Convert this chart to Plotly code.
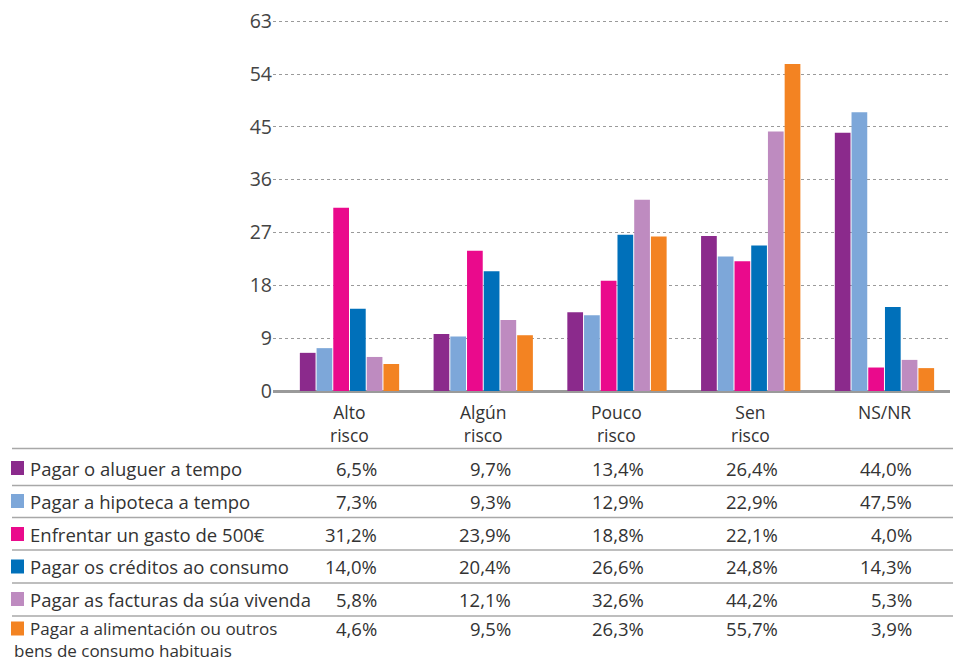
import plotly.graph_objects as go

categories = ["Alto<br>risco", "Algún<br>risco", "Pouco<br>risco", "Sen<br>risco", "NS/NR"]
series_names = [
    "Pagar o aluguer a tempo",
    "Pagar a hipoteca a tempo",
    "Enfrentar un gasto de 500€",
    "Pagar os créditos ao consumo",
    "Pagar as facturas da súa vivenda",
    "Pagar a alimentación ou outros\nbens de consumo habituais",
]
aluguer = [6.5, 9.7, 13.4, 26.4, 44.0]
hipoteca = [7.3, 9.3, 12.9, 22.9, 47.5]
gasto500 = [31.2, 23.9, 18.8, 22.1, 4.0]
creditos = [14.0, 20.4, 26.6, 24.8, 14.3]
facturas = [5.8, 12.1, 32.6, 44.2, 5.3]
alimentacion = [4.6, 9.5, 26.3, 55.7, 3.9]
series_values = [aluguer, hipoteca, gasto500, creditos, facturas, alimentacion]
colors = ["#8B2A8C", "#7DA7D9", "#EA0A8C", "#0070BA", "#BE8BC0", "#F38322"]
y_ticks = [0, 9, 18, 27, 36, 45, 54, 63]

FONT = "Open Sans"
TXT = "#333333"

W, H = 953, 662
L, R, T, B = 273, 3, 20, 271
PW, PH = W - L - R, H - T - B


def xp(px):
    return (px - L) / PW


def yp(py):
    return (H - B - py) / PH


fig = go.Figure()
for name, vals, col in zip(series_names, series_values, colors):
    fig.add_trace(go.Bar(
        x=list(range(len(categories))), y=vals, name=name.replace("\n", " "),
        marker=dict(color=col, line=dict(width=0)), showlegend=False,
    ))

annotations = []
shapes = []

# category labels
for j, cat in enumerate(categories):
    annotations.append(dict(text=cat, xref="x", yref="paper", x=j, y=yp(398),
                            xanchor="center", yanchor="top", showarrow=False,
                            font=dict(family=FONT, size=17.5, color=TXT)))

# table horizontal rules
rule_y = [448.5, 485.5, 517.5, 550, 583, 616]
for ry in rule_y:
    shapes.append(dict(type="line", xref="paper", yref="paper",
                       x0=xp(12), x1=xp(953), y0=yp(ry), y1=yp(ry),
                       line=dict(color="#A8A8A8", width=1.5)))

row_y = [468, 501, 534, 566.5, 599, 628.5]
col_right = [378, 512, 645, 779, 913]
for i, (name, vals, col) in enumerate(zip(series_names, series_values, colors)):
    cy = row_y[i]
    parts = name.split("\n")
    fs = 18.5 if len(parts) == 1 else 17
    shapes.append(dict(type="rect", xref="paper", yref="paper",
                       x0=xp(11), x1=xp(24), y0=yp(cy + 7), y1=yp(cy - 7),
                       fillcolor=col, line=dict(width=0)))
    annotations.append(dict(text=parts[0], xref="paper", yref="paper",
                            x=xp(29), y=yp(cy), xanchor="left", yanchor="middle",
                            showarrow=False, borderpad=0,
                            font=dict(family=FONT, size=fs, color=TXT)))
    if len(parts) > 1:
        annotations.append(dict(text=parts[1], xref="paper", yref="paper",
                                x=xp(13), y=yp(cy + 22), xanchor="left", yanchor="middle",
                                showarrow=False, borderpad=0,
                                font=dict(family=FONT, size=fs, color=TXT)))
    for j, v in enumerate(vals):
        txt = f"{v:.1f}".replace(".", ",") + "%"
        annotations.append(dict(text=txt, xref="paper", yref="paper",
                                x=xp(col_right[j]), y=yp(cy), xanchor="right", yanchor="middle",
                                showarrow=False, borderpad=0,
                                font=dict(family=FONT, size=18.5, color=TXT)))

fig.update_layout(
    width=W, height=H,
    margin=dict(l=L, r=R, t=T, b=B, autoexpand=False),
    paper_bgcolor="white", plot_bgcolor="white",
    barmode="group", bargap=0.25, bargroupgap=0.06,
    shapes=shapes, annotations=annotations,
    xaxis=dict(
        range=[-0.572, 4.49], tickmode="array",
        tickvals=list(range(len(categories))), ticktext=["" for _ in categories],
        showgrid=False, zeroline=False, showline=False, ticks="",
    ),
    yaxis=dict(
        range=[0, 63.2], tickmode="array", tickvals=y_ticks,
        ticktext=[str(t) for t in y_ticks],
        showgrid=True, gridcolor="#9A9A9A", gridwidth=1, griddash="dot",
        zeroline=True, zerolinecolor="#9A9A9A", zerolinewidth=2.5,
        showline=False, ticks="",
        tickfont=dict(family=FONT, size=19.5, color="#444444"),
    ),
)

fig.write_html("out.html", config={"displayModeBar": False},
               post_script="document.body.style.margin='0';")
